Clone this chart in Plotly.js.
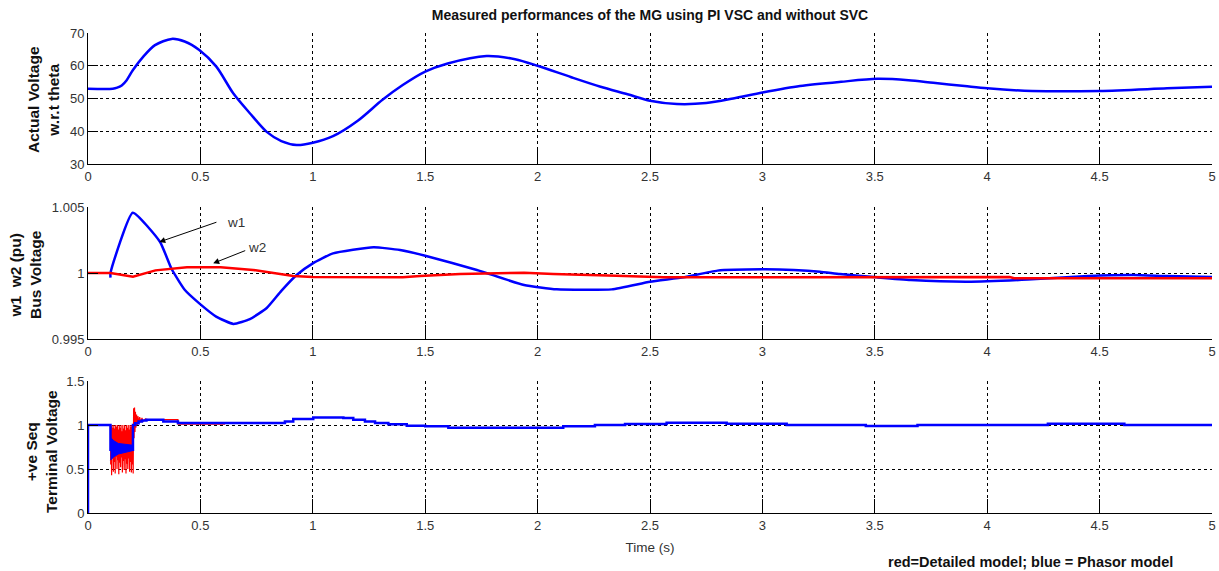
<!DOCTYPE html>
<html>
<head>
<meta charset="utf-8">
<script src="https://cdn.plot.ly/plotly-3.0.1.min.js"></script>
<style>html,body{margin:0;padding:0;background:#fff;}#chart{width:1219px;height:571px;}</style>
</head>
<body>
<div id="chart"></div>
<script>
// ---- Top panel: actual voltage w.r.t theta (blue = phasor model) ----
const thetaT = [0, 0.11, 0.13, 0.15, 0.172, 0.2, 0.246, 0.298, 0.372, 0.43, 0.495, 0.57, 0.646, 0.72, 0.795, 0.86, 0.928, 1.0, 1.09, 1.2, 1.31, 1.4, 1.5, 1.6, 1.773, 1.9, 2.0, 2.15, 2.28, 2.4, 2.5, 2.62, 2.75, 2.87, 3.0, 3.167, 3.35, 3.51, 3.65, 3.76, 3.9, 4.0, 4.2, 4.5, 4.8, 5.0];
const thetaV = [53.0, 53.0, 53.3, 54.0, 55.6, 58.7, 62.8, 66.3, 68.2, 67.4, 64.8, 59.8, 51.6, 45.5, 39.8, 37.0, 35.8, 36.5, 38.5, 43.2, 49.6, 54.1, 58.2, 60.7, 63.0, 62.0, 60.0, 56.5, 53.6, 51.3, 49.3, 48.3, 48.6, 50.0, 51.8, 53.8, 55.1, 56.0, 55.6, 54.8, 53.8, 53.1, 52.3, 52.3, 53.1, 53.6];

// ---- Middle panel: bus voltage w1 (blue) and w2 (red) ----
const w1T = [0.1, 0.1, 0.199, 0.32, 0.372, 0.431, 0.495, 0.57, 0.647, 0.72, 0.795, 0.86, 0.928, 1.0, 1.09, 1.27, 1.388, 1.5, 1.73, 1.94, 2.085, 2.33, 2.5, 2.65, 2.8, 3.0, 3.14, 3.256, 3.345, 3.51, 3.66, 3.91, 4.18, 4.45, 4.65, 4.8, 5.0];
const w1V = [0.99965, 1.0, 1.00457, 1.00237, 1.0003, 0.99871, 0.9977, 0.9967, 0.99614, 0.9965, 0.99735, 0.99865, 0.99985, 1.00073, 1.00149, 1.00195, 1.00174, 1.00131, 1.00023, 0.99909, 0.99876, 0.99876, 0.99934, 0.99967, 1.00018, 1.00028, 1.00023, 1.0001, 0.99992, 0.99967, 0.99947, 0.99934, 0.9995, 0.99977, 0.99985, 0.99977, 0.9997];
const w2T = [0, 0.1, 0.2, 0.3, 0.44, 0.59, 0.735, 0.913, 1.0, 1.4, 1.477, 1.655, 1.94, 2.07, 2.35, 2.56, 4.1, 4.12, 5.0];
const w2V = [1.0, 1.0, 0.99972, 1.0002, 1.00043, 1.00043, 1.00023, 0.99977, 0.9997, 0.99967, 0.99977, 0.99992, 1.00002, 0.99992, 0.9998, 0.99967, 0.9997, 0.9996, 0.9996];

// ---- Bottom panel: +ve sequence terminal voltage ----
const termBlueT = [0, 0, 0.1, 0.2, 0.21, 0.225, 0.24, 0.26, 0.335, 0.40, 0.876, 0.913, 1.002, 1.136, 1.18, 1.232, 1.277, 1.336, 1.418, 1.5, 1.603, 2.114, 2.255, 2.389, 2.574, 2.841, 3.108, 3.46, 3.69, 4.27, 4.61, 5.0];
const termBlueV = [0, 1.0, 0.72, 1.0, 1.02, 1.04, 1.05, 1.06, 1.041, 1.023, 1.04, 1.068, 1.086, 1.079, 1.06, 1.04, 1.023, 1.008, 0.992, 0.985, 0.97, 0.985, 1.0, 1.011, 1.026, 1.015, 1.0, 0.99, 1.0, 1.015, 1.0, 1.0];
const bandT = [0.1, 0.115, 0.135, 0.165, 0.2];
const bandUpper = [0.86, 0.82, 0.79, 0.78, 0.77];
const bandLower = [0.60, 0.64, 0.67, 0.69, 0.71];
const termRedT = [0, 0.1, 0.101, 0.103, 0.105, 0.107, 0.109, 0.111, 0.113, 0.115, 0.117, 0.119, 0.121, 0.123, 0.125, 0.127, 0.129, 0.131, 0.133, 0.135, 0.137, 0.139, 0.141, 0.143, 0.145, 0.147, 0.149, 0.151, 0.153, 0.155, 0.157, 0.159, 0.161, 0.163, 0.165, 0.167, 0.169, 0.171, 0.173, 0.175, 0.177, 0.179, 0.181, 0.183, 0.185, 0.187, 0.189, 0.191, 0.193, 0.195, 0.197, 0.199, 0.201, 0.203, 0.205, 0.207, 0.209, 0.211, 0.213, 0.216, 0.219, 0.222, 0.226, 0.23, 0.235, 0.24, 0.246, 0.255, 0.27, 0.4, 0.4, 0.61];
const termRedV = [1.0, 1.0, 0.55, 0.99, 0.43, 1.0, 0.62, 0.97, 0.47, 1.0, 0.58, 0.96, 0.45, 1.0, 0.64, 0.98, 0.5, 1.0, 0.6, 0.95, 0.44, 1.0, 0.57, 0.97, 0.52, 1.0, 0.63, 0.93, 0.46, 1.0, 0.59, 0.96, 0.49, 1.0, 0.61, 0.94, 0.45, 1.0, 0.56, 0.97, 0.5, 1.0, 0.62, 0.95, 0.47, 1.0, 0.58, 0.98, 0.46, 1.0, 0.55, 0.99, 0.45, 1.19, 0.85, 1.2, 0.92, 1.15, 0.97, 1.12, 1.0, 1.1, 1.02, 1.09, 1.03, 1.08, 1.04, 1.07, 1.06, 1.06, 1.01, 1.01];

// ---- Tick labels ----
const xTicks = [0, 0.5, 1, 1.5, 2, 2.5, 3, 3.5, 4, 4.5, 5];
const xTickText = ['0', '0.5', '1', '1.5', '2', '2.5', '3', '3.5', '4', '4.5', '5'];
const y1Ticks = [30, 40, 50, 60, 70];
const y2Ticks = [0.995, 1, 1.005];
const y2TickText = ['0.995', '1', '1.005'];
const y3Ticks = [0, 0.5, 1, 1.5];
const y3TickText = ['0', '0.5', '1', '1.5'];

const BLUE = '#0000ff', RED = '#ff0000';
const traces = [
  {x: thetaT, y: thetaV, xaxis: 'x', yaxis: 'y', mode: 'lines', line: {color: BLUE, width: 2.5, shape: 'spline', smoothing: 0.8}},
  {x: w1T, y: w1V, xaxis: 'x2', yaxis: 'y2', mode: 'lines', line: {color: BLUE, width: 2.5, shape: 'spline', smoothing: 0.45}},
  {x: w2T, y: w2V, xaxis: 'x2', yaxis: 'y2', mode: 'lines', line: {color: RED, width: 2.5}},
  {x: termRedT, y: termRedV, xaxis: 'x3', yaxis: 'y3', mode: 'lines', line: {color: RED, width: 1.2}},
  {x: bandT, y: bandLower, xaxis: 'x3', yaxis: 'y3', mode: 'lines', line: {color: BLUE, width: 1}},
  {x: bandT, y: bandUpper, xaxis: 'x3', yaxis: 'y3', mode: 'lines', line: {color: BLUE, width: 1}, fill: 'tonexty', fillcolor: BLUE},
  {x: termBlueT, y: termBlueV, xaxis: 'x3', yaxis: 'y3', mode: 'lines', line: {color: BLUE, width: 2.5, shape: 'hv'}}
];

const FAM = 'Liberation Sans, Arial, sans-serif';
const tickFont = {family: FAM, size: 13, color: '#333'};
function xAxis(anchor, extra) {
  return Object.assign({
    anchor: anchor, domain: [0, 1], range: [0, 5], tickmode: 'array', tickvals: xTicks, ticktext: xTickText,
    showline: true, linecolor: '#000', linewidth: 1, mirror: false,
    showgrid: true, gridcolor: '#000', gridwidth: 1, griddash: '3px,3px',
    ticks: 'inside', ticklen: 14, tickcolor: '#000', tickwidth: 1,
    zeroline: false, tickfont: tickFont, fixedrange: true
  }, extra || {});
}
function yAxis(anchor, domain, range, vals, text) {
  return {
    anchor: anchor, domain: domain, range: range, tickmode: 'array', tickvals: vals, ticktext: text,
    showline: true, linecolor: '#000', linewidth: 1, mirror: false,
    showgrid: true, gridcolor: '#000', gridwidth: 1, griddash: '3px,3px',
    ticks: 'inside', ticklen: 10, tickcolor: '#000', tickwidth: 1,
    zeroline: false, tickfont: tickFont, fixedrange: true
  };
}

const labelFont = {family: FAM, size: 15.5, color: '#111', weight: 'bold'};
const noteFont = {family: FAM, size: 14.5, color: '#111', weight: 'bold'};
const layout = {
  width: 1219, height: 571,
  margin: {l: 88, r: 7, t: 33, b: 58},
  paper_bgcolor: '#fff', plot_bgcolor: '#fff',
  showlegend: false,
  title: {text: 'Measured performances of the MG using PI VSC and without SVC', font: {family: FAM, size: 14, color: '#111', weight: 'bold'}, xref: 'paper', x: 0.5, xanchor: 'center', yref: 'container', y: 1 - 15 / 571, yanchor: 'middle'},
  xaxis: xAxis('y'),
  xaxis2: xAxis('y2'),
  xaxis3: xAxis('y3', {title: {text: 'Time (s)', font: {family: FAM, size: 13.5, color: '#333'}, standoff: 10}}),
  yaxis: yAxis('x', [0.7271, 1], [30, 70], y1Ticks, y1Ticks.map(String)),
  yaxis2: yAxis('x2', [0.3625, 0.6375], [0.995, 1.005], y2Ticks, y2TickText),
  yaxis3: yAxis('x3', [0, 0.275], [0, 1.5], y3Ticks, y3TickText),
  annotations: [
    {text: 'Actual Voltage<br>w.r.t theta', xref: 'paper', yref: 'paper', x: (44 - 88) / 1124, y: (513 - 100) / 480, xanchor: 'center', yanchor: 'middle', textangle: -90, showarrow: false, font: labelFont},
    {text: 'w1  w2 (pu)<br>Bus Voltage', xref: 'paper', yref: 'paper', x: (25 - 88) / 1124, y: (513 - 275) / 480, xanchor: 'center', yanchor: 'middle', textangle: -90, showarrow: false, font: labelFont},
    {text: '+ve Seq<br>Terminal Voltage', xref: 'paper', yref: 'paper', x: (41 - 88) / 1124, y: (513 - 452) / 480, xanchor: 'center', yanchor: 'middle', textangle: -90, showarrow: false, font: labelFont},
    {text: 'w1', xref: 'x2', yref: 'y2', x: 0.658, y: 1.00386, showarrow: false, font: {family: FAM, size: 13.5, color: '#333'}},
    {text: 'w2', xref: 'x2', yref: 'y2', x: 0.752, y: 1.00197, showarrow: false, font: {family: FAM, size: 13.5, color: '#333'}},
    {text: '', xref: 'x2', yref: 'y2', x: 0.317, y: 1.002348, axref: 'x2', ayref: 'y2', ax: 0.578, ay: 1.003886, showarrow: true, arrowhead: 2, arrowsize: 1.2, arrowwidth: 1, arrowcolor: '#000'},
    {text: '', xref: 'x2', yref: 'y2', x: 0.557, y: 1.000735, axref: 'x2', ayref: 'y2', ax: 0.706, ay: 1.001742, showarrow: true, arrowhead: 2, arrowsize: 1.2, arrowwidth: 1, arrowcolor: '#000'},
    {text: 'red=Detailed model; blue = Phasor model', xref: 'paper', yref: 'paper', x: (1030 - 88) / 1124, y: (513 - 562) / 480, xanchor: 'center', yanchor: 'middle', showarrow: false, font: noteFont}
  ]
};

Plotly.newPlot('chart', traces, layout, {displayModeBar: false, staticPlot: true});
</script>
</body>
</html>
